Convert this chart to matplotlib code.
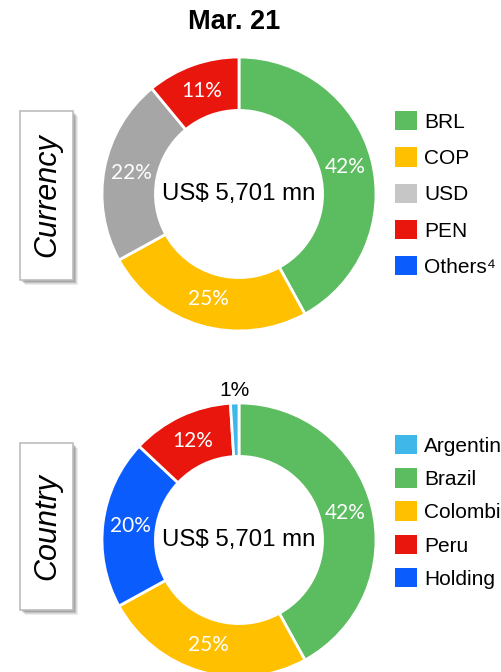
import matplotlib
matplotlib.use('Agg')
import matplotlib.pyplot as plt
import numpy as np
from matplotlib.patches import Patch, Rectangle

# data
title = 'Mar. 21'
total_label = 'US$ 5,701 mn'

cur_labels = ['BRL', 'COP', 'USD', 'PEN', 'Others⁴']
cur_legend_colors = ['#5bbd5f', '#ffc000', '#c6c6c6', '#e8160c', '#0a5cfc']
cur_slices = ['BRL', 'COP', 'USD', 'PEN']          # clockwise from 12 o'clock
cur_values = [42, 25, 22, 11]
cur_colors = ['#5bbd5f', '#ffc000', '#a6a6a6', '#e8160c']

cty_labels = ['Argentina', 'Brazil', 'Colombia', 'Peru', 'Holding']
cty_legend_colors = ['#3fb7e8', '#5bbd5f', '#ffc000', '#e8160c', '#0a5cfc']
cty_slices = ['Brazil', 'Colombia', 'Holding', 'Peru', 'Argentina']
cty_values = [42, 25, 20, 12, 1]
cty_colors = ['#5bbd5f', '#ffc000', '#0a5cfc', '#e8160c', '#3fb7e8']

W, H = 501, 672
fig = plt.figure(figsize=(W / 100, H / 100), dpi=100)
fig.patch.set_facecolor('white')

# overlay in pixel coords for side boxes
bg = fig.add_axes([0, 0, 1, 1])
bg.set_xlim(0, W)
bg.set_ylim(H, 0)
bg.axis('off')


def side_box(y0, y1, text):
    # soft shadow
    for i, a in enumerate([0.10, 0.13, 0.18, 0.25]):
        off = 5 - i
        bg.add_patch(Rectangle((20 + off, y0 + off), 53, y1 - y0,
                               facecolor='#555555', edgecolor='none', alpha=a))
    bg.add_patch(Rectangle((20, y0), 53, y1 - y0, facecolor='white',
                           edgecolor='#bdbdbd', linewidth=1.2))
    bg.text(47, (y0 + y1) / 2, text, rotation=90, ha='center', va='center',
            fontsize=22, style='italic', family='Liberation Sans')


side_box(111, 280, 'Currency')
side_box(443, 610, 'Country')

R = 137
CX = 239


def donut(cy, values, colors):
    ax = fig.add_axes([(CX - R) / W, (H - cy - R) / H, 2 * R / W, 2 * R / H])
    wedges, texts, autotexts = ax.pie(
        values, colors=colors, startangle=90, counterclock=False,
        autopct='%d%%', pctdistance=0.80,
        wedgeprops=dict(width=0.39, edgecolor='white', linewidth=2.0),
        textprops=dict(color='white', fontsize=15, family='Lato'))
    ax.set_xlim(-1, 1)
    ax.set_ylim(-1, 1)
    ax.text(0, 0, total_label, ha='center', va='center', fontsize=17.3,
            family='Liberation Sans')
    # push tiny slice labels outside the ring
    for w, t, v in zip(wedges, autotexts, values):
        if v < 3:
            ang = np.deg2rad((w.theta1 + w.theta2) / 2)
            t.set_position((1.095 * np.cos(ang), 1.095 * np.sin(ang)))
            t.set_color('black')
            t.set_family('Liberation Sans')
            t.set_fontsize(15)
    return ax


donut(194, cur_values, cur_colors)
donut(540, cty_values, cty_colors)

fig.text(234 / W, 1 - 22 / H, title, ha='center', va='center', fontsize=19.5,
         fontweight='bold', family='Liberation Sans')


def legend(y_top, labels, colors, spacing):
    handles = [Patch(facecolor=c, edgecolor='none') for c in colors]
    fig.legend(handles, labels, loc='upper left',
               bbox_to_anchor=(395 / W, 1 - y_top / H), frameon=False,
               borderpad=0, borderaxespad=0, handlelength=1.06,
               handleheight=1.06, handletextpad=0.33, labelspacing=spacing,
               prop=dict(family='Liberation Sans', size=15))


legend(111, cur_labels, cur_legend_colors, 0.74)
legend(435, cty_labels, cty_legend_colors, 0.595)

fig.savefig('out.png', dpi=100, facecolor='white')
